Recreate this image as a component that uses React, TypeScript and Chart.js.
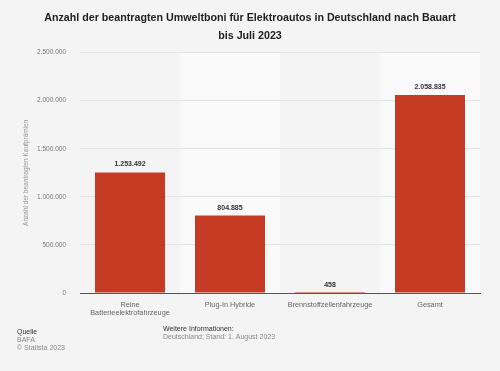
import React, { useEffect, useRef } from "react";
import { Chart, registerables } from "chart.js";

Chart.register(...registerables);

const categories: (string | string[])[] = [
  ["Reine", "Batterieelektrofahrzeuge"],
  "Plug-In Hybride",
  "Brennstoffzellenfahrzeuge",
  "Gesamt",
];
const values: number[] = [1253492, 804885, 458, 2058835];
const titleLines: string[] = [
  "Anzahl der beantragten Umweltboni für Elektroautos in Deutschland nach Bauart",
  "bis Juli 2023",
];
const yAxisTitle = "Anzahl der beantragten Kaufprämien";
const yMax = 2500000;
const yStep = 500000;
const sourceLines: string[] = ["Quelle", "BAFA", "© Statista 2023"];
const infoLines: string[] = ["Weitere Informationen:", "Deutschland; Stand: 1. August 2023"];

const FONT = "'Liberation Sans', Arial, Helvetica, sans-serif";

function fmt(v: number): string {
  return String(Math.round(v)).replace(/\B(?=(\d{3})+(?!\d))/g, ".");
}

const bgPlugin = {
  id: "bgBands",
  beforeDraw(chart: any) {
    const { ctx, chartArea, scales } = chart;
    ctx.save();
    ctx.fillStyle = "#f4f4f4";
    ctx.fillRect(0, 0, chart.width, chart.height);
    const n = categories.length;
    const w = (chartArea.right - chartArea.left) / n;
    ctx.fillStyle = "#fafafa";
    for (let i = 1; i < n; i += 2) {
      const cx = scales.x.getPixelForValue(i);
      ctx.fillRect(cx - w / 2, chartArea.top, w, chartArea.bottom - chartArea.top);
    }
    ctx.restore();
  },
};

const labelPlugin = {
  id: "valueLabels",
  afterDatasetsDraw(chart: any) {
    const { ctx } = chart;
    const meta = chart.getDatasetMeta(0);
    ctx.save();
    ctx.font = `bold 7px ${FONT}`;
    ctx.fillStyle = "#333333";
    ctx.textAlign = "center";
    ctx.textBaseline = "middle";
    meta.data.forEach((bar: any, i: number) => {
      ctx.fillText(fmt(values[i]), bar.x, bar.y - 8);
    });
    ctx.restore();
  },
};

const footerPlugin = {
  id: "footerText",
  afterDraw(chart: any) {
    const { ctx } = chart;
    ctx.save();
    ctx.textAlign = "left";
    ctx.textBaseline = "middle";
    ctx.font = `7px ${FONT}`;
    ctx.fillStyle = "#333333";
    ctx.fillText(sourceLines[0], 17, 332);
    ctx.fillStyle = "#888888";
    ctx.fillText(sourceLines[1], 17, 340);
    ctx.fillText(sourceLines[2], 17, 348);
    ctx.fillStyle = "#333333";
    ctx.fillText(infoLines[0], 163, 329);
    ctx.fillStyle = "#888888";
    ctx.fillText(infoLines[1], 163, 337);
    ctx.restore();
  },
};

export default function App() {
  const ref = useRef<HTMLCanvasElement | null>(null);
  useEffect(() => {
    if (!ref.current) return;
    const chart = new Chart(ref.current, {
      type: "bar",
      data: {
        labels: categories as any,
        datasets: [
          {
            data: values,
            backgroundColor: "#c63b24",
            borderWidth: 0,
            barPercentage: 0.7,
            categoryPercentage: 1,
          },
        ],
      },
      options: {
        responsive: false,
        animation: false,
        devicePixelRatio: 1,
        layout: { padding: { left: 20, right: 20, top: 0, bottom: 48 } },
        plugins: {
          legend: { display: false },
          tooltip: { enabled: false },
          title: {
            display: true,
            text: titleLines,
            color: "#222222",
            font: { family: FONT, size: 10.7, weight: "bold", lineHeight: 1.68 },
            padding: { top: 9, bottom: 7.6 },
          },
        },
        scales: {
          x: {
            grid: { display: false },
            border: { display: true, color: "#555555", width: 1 },
            ticks: {
              color: "#666666",
              font: { family: FONT, size: 7.3, lineHeight: 1.1 },
              padding: 0,
              maxRotation: 0,
              autoSkip: false,
            },
            afterFit(scale: any) {
              scale.height = 30;
            },
          },
          y: {
            min: 0,
            max: yMax,
            grid: { color: "#e4e4e4", drawTicks: false },
            border: { display: false },
            ticks: {
              stepSize: yStep,
              padding: 14,
              color: "#777777",
              font: { family: FONT, size: 6.5 },
              callback: (v: any) => fmt(Number(v)),
            },
            title: {
              display: true,
              text: yAxisTitle,
              color: "#999999",
              font: { family: FONT, size: 6.5 },
              padding: { top: 2, bottom: 0 },
            },
            afterFit(scale: any) {
              scale.width = 60;
            },
          },
        },
      },
      plugins: [bgPlugin, labelPlugin, footerPlugin],
    });
    return () => chart.destroy();
  }, []);
  return (
    <div style={{ position: "absolute", left: 0, top: 0, width: 500, height: 371 }}>
      <canvas ref={ref} width={500} height={371} />
    </div>
  );
}
